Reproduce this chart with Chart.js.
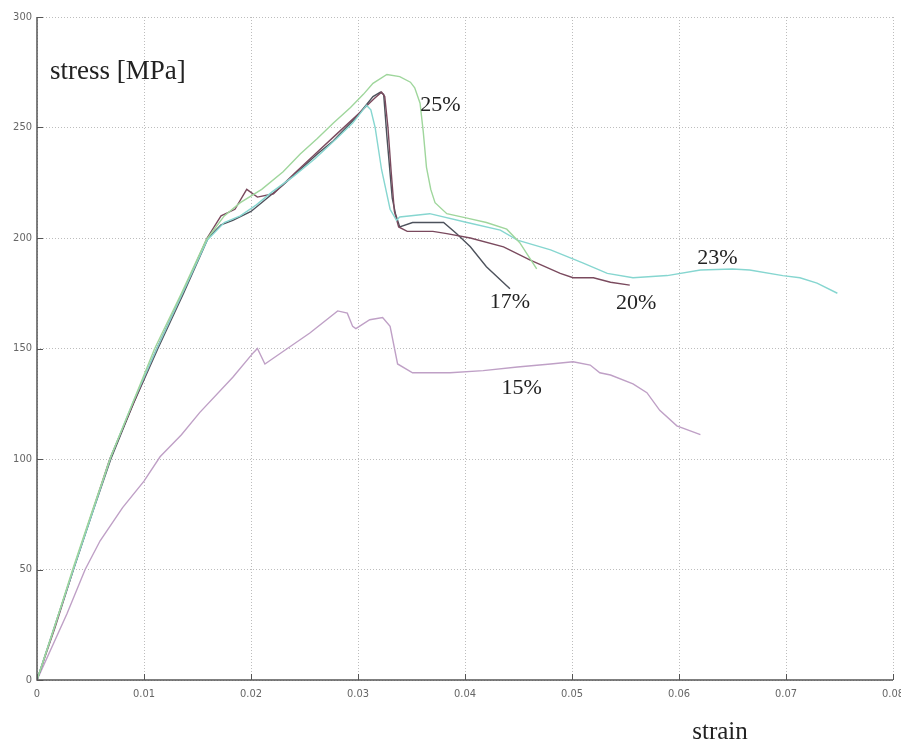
<!DOCTYPE html>
<html>
<head>
<meta charset="utf-8">
<script src="https://cdn.jsdelivr.net/npm/chart.js@4/dist/chart.umd.min.js"></script>
<style>
  html, body { margin: 0; padding: 0; background: #fff; }
  #wrap { width: 901px; height: 744px; }
</style>
</head>
<body>
<div id="wrap"><canvas id="c" width="901" height="744"></canvas></div>
<script>
// Stress–strain curves, [strain, stress in MPa]
const labels = ['25%', '23%', '20%', '17%', '15%'];

const curve25 = [[0,0],[0.0017,25],[0.0034,51],[0.0052,77],[0.0069,101],[0.009,126],[0.011,150],[0.0135,175],[0.0158,199],[0.0175,210],[0.019,216],[0.021,222],[0.023,230],[0.0246,238],[0.0262,245],[0.0277,252],[0.0293,259],[0.0305,265],[0.0314,270],[0.0327,274],[0.0339,273],[0.0349,270.5],[0.0353,268],[0.0358,261],[0.0361,248],[0.0364,232],[0.0368,222],[0.0372,216],[0.0383,211],[0.0402,209],[0.042,207],[0.0439,204],[0.0451,198],[0.0467,186]];

const curve23 = [[0,0],[0.0017,25],[0.0034,50],[0.0052,76],[0.0069,101],[0.009,126],[0.0112,150],[0.0136,175],[0.0159,199],[0.0175,207],[0.019,210],[0.0205,215],[0.022,221],[0.024,228],[0.026,236],[0.028,245],[0.0295,252],[0.0308,260],[0.0312,258],[0.0316,250],[0.0322,231],[0.033,213],[0.0336,208],[0.0339,209.5],[0.0367,211],[0.0402,207],[0.0433,203.6],[0.0449,199],[0.048,194.6],[0.051,188.7],[0.0533,184],[0.0557,182],[0.0589,183],[0.062,185.5],[0.065,186],[0.0666,185.5],[0.0697,183],[0.0713,182],[0.0729,179.6],[0.0748,175]];

const curve20 = [[0,0],[0.0017,24],[0.0034,50],[0.0051,75],[0.0068,100],[0.009,125],[0.0112,150],[0.0136,175],[0.0159,200],[0.0172,210],[0.0185,213],[0.0196,222],[0.0206,218.5],[0.0221,220],[0.024,229],[0.026,238],[0.028,247],[0.03,256],[0.0315,263],[0.0322,266],[0.0325,264],[0.0328,250],[0.0331,230],[0.0334,212],[0.0338,205],[0.0346,203],[0.037,203],[0.0383,202],[0.0405,200],[0.0436,196],[0.0461,190],[0.0489,184],[0.0501,182],[0.052,182],[0.0536,180],[0.0554,178.7]];

const curve17 = [[0,0],[0.0017,25],[0.0034,50],[0.0052,76],[0.0069,100],[0.009,125],[0.0113,150],[0.0137,175],[0.016,200],[0.0172,206],[0.0183,208],[0.02,212],[0.0215,218],[0.023,224],[0.0246,231],[0.0262,238],[0.0277,244],[0.0299,255],[0.0314,264],[0.0321,266],[0.0324,265],[0.0327,246],[0.0332,218],[0.0335,211],[0.0339,205],[0.0351,207],[0.0374,207],[0.038,207],[0.0392,202],[0.0405,196],[0.042,187],[0.0442,177]];

const curve15 = [[0,0],[0.0028,30],[0.0045,50],[0.0059,63],[0.008,78],[0.01,90],[0.0115,101],[0.0135,111],[0.0152,121],[0.0183,137],[0.0202,148],[0.0206,150],[0.0213,143],[0.0234,150],[0.0255,157],[0.0281,167],[0.029,166],[0.0295,160],[0.0298,159],[0.0311,163],[0.0323,164],[0.033,160],[0.0337,143],[0.0351,139],[0.0386,139],[0.0417,140],[0.0449,141.6],[0.048,143],[0.0501,144],[0.0517,142.5],[0.0526,139],[0.0536,138],[0.0557,134],[0.057,130],[0.0582,122],[0.0598,115],[0.062,111]];

// Where each percentage tag sits, in [strain, stress]
const labelAt = [[0.0377,260],[0.0636,191],[0.056,170.6],[0.0442,171],[0.0453,132]];

const xTicks = [0, 0.01, 0.02, 0.03, 0.04, 0.05, 0.06, 0.07, 0.08];
const yTicks = [0, 50, 100, 150, 200, 250, 300];

const series = [curve25, curve23, curve20, curve17, curve15];
const colors = ['#9fd69c', '#86d6d0', '#7a4a5e', '#4d525c', '#bfa0c6'];

const toPts = arr => arr.map(p => ({ x: p[0], y: p[1] }));

const datasets = series.map((s, i) => ({
  label: labels[i],
  data: toPts(s),
  showLine: true,
  borderColor: colors[i],
  borderWidth: 1.4,
  pointRadius: 0,
  tension: 0,
  fill: false
}));

const tickFont = { family: "'Liberation Sans Narrow', 'DejaVu Sans Condensed', sans-serif", size: 11 };

const overlay = {
  id: 'overlay',
  afterDatasetsDraw(chart) {
    const { ctx, scales: { x, y }, chartArea } = chart;
    ctx.save();
    // solid axis lines and inward tick marks
    ctx.setLineDash([]);
    ctx.strokeStyle = '#555';
    ctx.lineWidth = 1.5;
    ctx.beginPath();
    ctx.moveTo(chartArea.left, chartArea.top);
    ctx.lineTo(chartArea.left, chartArea.bottom);
    ctx.lineTo(chartArea.right, chartArea.bottom);
    ctx.stroke();
    ctx.lineWidth = 1;
    ctx.beginPath();
    xTicks.forEach(v => {
      const px = Math.round(x.getPixelForValue(v)) + 0.5;
      ctx.moveTo(px, chartArea.bottom);
      ctx.lineTo(px, chartArea.bottom - 6);
    });
    yTicks.forEach(v => {
      const py = Math.round(y.getPixelForValue(v)) + 0.5;
      ctx.moveTo(chartArea.left, py);
      ctx.lineTo(chartArea.left + 6, py);
    });
    ctx.stroke();

    // percentage tags
    ctx.fillStyle = '#222';
    ctx.font = "22px 'Liberation Serif', 'Times New Roman', serif";
    ctx.textAlign = 'center';
    ctx.textBaseline = 'middle';
    labelAt.forEach((p, i) => {
      ctx.fillText(labels[i], x.getPixelForValue(p[0]), y.getPixelForValue(p[1]));
    });

    // axis titles
    ctx.font = "27px 'Liberation Serif', 'Times New Roman', serif";
    ctx.textAlign = 'left';
    ctx.fillText('stress [MPa]', chartArea.left + 13, chartArea.top + 55);
    ctx.font = "25px 'Liberation Serif', 'Times New Roman', serif";
    ctx.textAlign = 'center';
    ctx.fillText('strain', 720, 732);
    ctx.restore();
  }
};

new Chart(document.getElementById('c'), {
  type: 'scatter',
  data: { datasets },
  options: {
    responsive: false,
    animation: false,
    layout: { padding: { top: 17, right: 8, left: 0, bottom: 0 } },
    plugins: { legend: { display: false }, tooltip: { enabled: false } },
    scales: {
      x: {
        type: 'linear',
        min: 0, max: 0.08,
        afterBuildTicks: s => { s.ticks = xTicks.map(v => ({ value: v })); },
        afterFit: s => { s.height = 64; s.paddingLeft = 0; s.paddingRight = 0; },
        ticks: {
          color: '#666',
          font: tickFont,
          padding: 8,
          maxRotation: 0,
          callback: v => (v === 0 ? '0' : String(Number(v.toFixed(2))))
        },
        grid: {
          color: '#bdbdbd',
          lineWidth: 1,
          drawTicks: false
        },
        border: { display: false, dash: [1, 2] }
      },
      y: {
        type: 'linear',
        min: 0, max: 300,
        afterBuildTicks: s => { s.ticks = yTicks.map(v => ({ value: v })); },
        afterFit: s => { s.width = 37; s.paddingTop = 0; s.paddingBottom = 0; },
        ticks: {
          color: '#666',
          font: tickFont,
          padding: 5
        },
        grid: {
          color: '#bdbdbd',
          lineWidth: 1,
          drawTicks: false
        },
        border: { display: false, dash: [1, 2] }
      }
    }
  },
  plugins: [overlay]
});
</script>
</body>
</html>
